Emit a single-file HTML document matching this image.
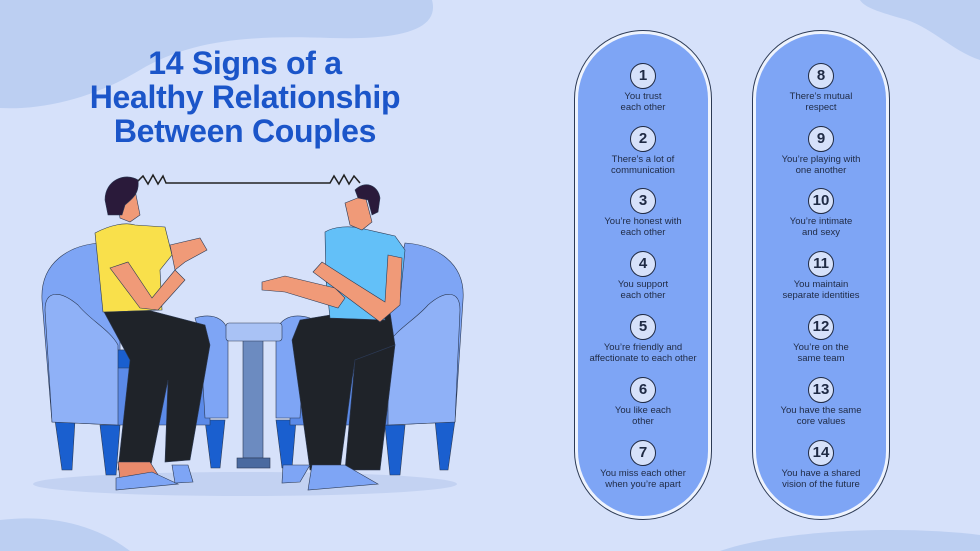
<!DOCTYPE html>
<html><head><meta charset="utf-8"><style>
html,body{margin:0;padding:0}
body{width:980px;height:551px;overflow:hidden;background:#d6e1fa;position:relative;font-family:"Liberation Sans",sans-serif}
svg{position:absolute;left:0;top:0}
.title{position:absolute;left:40px;top:46px;width:410px;text-align:center;color:#1b55c9;font-weight:bold;font-size:32px;line-height:34px;letter-spacing:-0.3px}
.pill{position:absolute;top:30px;width:138px;height:490px;border:1.5px solid #2c3a55;border-radius:69px;box-sizing:border-box;background:#eef3fd}
.pill .in{position:absolute;left:3px;right:3px;top:3px;bottom:3px;border-radius:65px;background:#7ea5f5}
.item{position:absolute;left:0;width:100%;text-align:center;color:#1f2a44;font-size:9.5px;line-height:11px}
.num{display:block;width:24px;height:24px;margin:0 auto 2px;border:1.5px solid #1f2a44;border-radius:50%;background:#d6e1fa;font-size:15px;line-height:24px;font-weight:bold}
</style></head><body>
<svg width="980" height="551" viewBox="0 0 980 551">
<path d="M0 0 H432 C440 30 400 40 330 38 C250 35 190 40 140 70 C90 100 40 110 0 108 Z" fill="#bccff2"/>
<path d="M860 0 H980 V60 C950 50 930 25 900 18 C880 12 865 8 860 0 Z" fill="#bccff2"/>
<path d="M0 520 C40 515 90 520 130 551 H0 Z" fill="#bccff2"/>
<path d="M720 551 C780 530 900 525 980 535 V551 Z" fill="#bccff2"/>
<ellipse cx="245" cy="484" rx="212" ry="12" fill="#c3d2f2"/>
<path d="M136 183 L143 176 L148 184 L153 175 L158 184 L163 176 L166 183 H330 L334 176 L339 184 L344 175 L349 184 L354 176 L360 183" fill="none" stroke="#222" stroke-width="1.5"/>
<g stroke="#2c3a55" stroke-width="0.6">
<path d="M55 420 L75 420 L72 470 L62 470 Z" fill="#1a5fcf"/>
<path d="M100 425 L120 425 L116 475 L106 475 Z" fill="#1a5fcf"/>
<path d="M205 420 L225 420 L220 468 L211 468 Z" fill="#1a5fcf"/>
<path d="M42 300 C40 262 70 245 100 243 L120 330 L120 425 L52 422 Z" fill="#7ea5f5"/>
<path d="M115 350 H210 V425 H115 Z" fill="#5b8ae8"/>
<path d="M115 350 H205 V368 H115 Z" fill="#1a5fcf"/>
<path d="M195 318 C215 312 230 320 228 340 L228 418 L205 418 L200 335 Z" fill="#7ea5f5"/>
<path d="M45 310 C45 290 60 290 78 305 C90 320 110 330 118 345 L118 425 L52 422 Z" fill="#8fb1f7"/>
</g>
<g stroke="#2c3a55" stroke-width="0.6">
<path d="M435 420 L455 420 L448 470 L440 470 Z" fill="#1a5fcf"/>
<path d="M385 425 L405 425 L400 475 L390 475 Z" fill="#1a5fcf"/>
<path d="M276 420 L296 420 L292 468 L282 468 Z" fill="#1a5fcf"/>
<path d="M463 300 C466 262 435 245 405 243 L385 330 L385 425 L455 422 Z" fill="#7ea5f5"/>
<path d="M290 350 H390 V425 H290 Z" fill="#5b8ae8"/>
<path d="M300 350 H390 V368 H300 Z" fill="#1a5fcf"/>
<path d="M310 318 C290 312 275 320 276 340 L276 418 L300 418 L305 335 Z" fill="#7ea5f5"/>
<path d="M460 310 C460 290 445 290 428 305 C415 320 395 330 388 345 L388 425 L455 422 Z" fill="#8fb1f7"/>
</g>
<g stroke="#2c3a55" stroke-width="0.6">
<rect x="243" y="340" width="20" height="118" fill="#6c8bc0"/>
<rect x="237" y="458" width="33" height="10" fill="#4a6aa0"/>
<rect x="226" y="323" width="56" height="18" rx="3" fill="#a9c2f5"/>
</g>
<g stroke="#2c3a55" stroke-width="0.6">
<path d="M103 310 L140 308 L205 325 L210 345 L190 460 L165 462 L168 380 L150 470 L118 470 L130 360 Z" fill="#1f2329"/>
<path d="M118 462 L150 462 L160 478 L120 480 Z" fill="#e98a6c"/>
<path d="M116 478 L152 472 L178 484 L116 490 Z" fill="#7ea5f5"/>
<path d="M172 465 L188 465 L193 482 L175 483 Z" fill="#7ea5f5"/>
<path d="M95 233 C110 225 125 222 135 225 L165 227 L172 255 L160 270 L162 310 L103 312 Z" fill="#f9e04b"/>
<path d="M110 268 L128 262 L152 298 L175 270 L185 280 L158 310 L140 308 Z" fill="#f09a78"/>
<path d="M170 245 L200 238 L207 250 L185 262 L175 270 Z" fill="#f09a78"/>
<path d="M117 195 L135 190 L140 215 L130 222 L120 218 Z" fill="#f09a78"/>
<path d="M105 200 C105 180 125 172 138 180 C140 195 130 200 125 205 L122 215 L115 215 L108 215 Z" fill="#2a1a3a"/>
</g>
<g stroke="#2c3a55" stroke-width="0.6">
<path d="M330 315 L390 312 L395 345 L355 360 L352 380 L340 470 L310 470 L292 340 L300 320 Z" fill="#1f2329"/>
<path d="M355 360 L395 345 L380 470 L345 470 Z" fill="#1f2329"/>
<path d="M283 465 L310 465 L300 482 L282 483 Z" fill="#7ea5f5"/>
<path d="M312 465 L345 465 L378 484 L308 490 Z" fill="#7ea5f5"/>
<path d="M325 232 C335 226 350 226 360 228 L395 236 L405 250 L400 300 L383 305 L385 320 L330 318 L326 280 Z" fill="#63c0f8"/>
<path d="M262 282 L285 276 L335 288 L345 298 L338 308 L285 292 L262 290 Z" fill="#f09a78"/>
<path d="M388 255 L402 258 L400 305 L380 322 L340 292 L313 272 L322 262 L350 280 L385 302 Z" fill="#f09a78"/>
<path d="M345 203 L365 195 L372 222 L362 230 L350 225 Z" fill="#f09a78"/>
<path d="M355 190 C365 180 378 185 380 198 L378 212 L372 215 L368 200 L358 198 Z" fill="#2a1a3a"/>
</g>
</svg>
<div class="title">14 Signs of a<br>Healthy Relationship<br>Between Couples</div>

<div class="pill" style="left:574px"><div class="in"></div>
<div class="item" style="top:32px"><span class="num">1</span>You trust<br>each other</div>
<div class="item" style="top:95px"><span class="num">2</span>There’s a lot of<br>communication</div>
<div class="item" style="top:157px"><span class="num">3</span>You’re honest with<br>each other</div>
<div class="item" style="top:220px"><span class="num">4</span>You support<br>each other</div>
<div class="item" style="top:283px"><span class="num">5</span>You’re friendly and<br>affectionate to each other</div>
<div class="item" style="top:346px"><span class="num">6</span>You like each<br>other</div>
<div class="item" style="top:409px"><span class="num">7</span>You miss each other<br>when you’re apart</div>
</div>
<div class="pill" style="left:752px"><div class="in"></div>
<div class="item" style="top:32px"><span class="num">8</span>There’s mutual<br>respect</div>
<div class="item" style="top:95px"><span class="num">9</span>You’re playing with<br>one another</div>
<div class="item" style="top:157px"><span class="num">10</span>You’re intimate<br>and sexy</div>
<div class="item" style="top:220px"><span class="num">11</span>You maintain<br>separate identities</div>
<div class="item" style="top:283px"><span class="num">12</span>You’re on the<br>same team</div>
<div class="item" style="top:346px"><span class="num">13</span>You have the same<br>core values</div>
<div class="item" style="top:409px"><span class="num">14</span>You have a shared<br>vision of the future</div>
</div>
</body></html>
